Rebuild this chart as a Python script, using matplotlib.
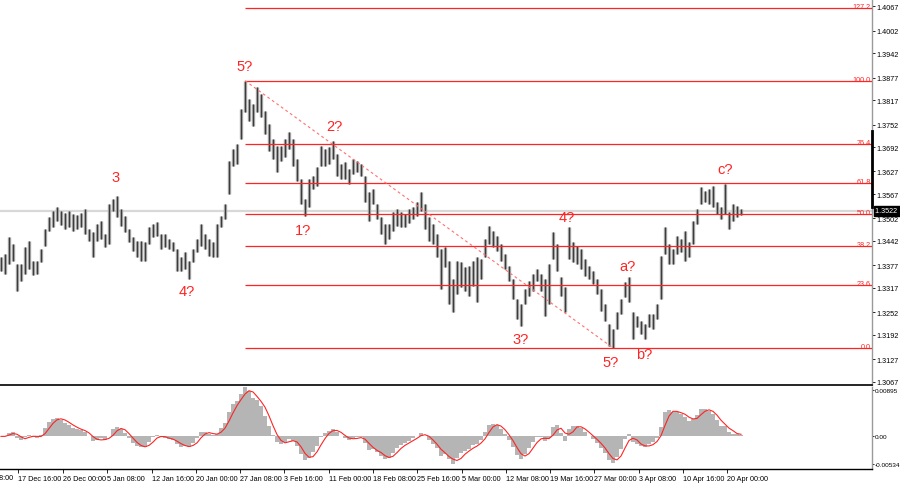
import matplotlib
matplotlib.use("Agg")
import matplotlib.pyplot as plt
import matplotlib.transforms as mtransforms
import numpy as np

# ---- price bars (H/L per bar) ----
highs = [
    1.3399, 1.3407, 1.3453, 1.3434, 1.3381, 1.3381, 1.3426, 1.3442, 1.3389, 1.3389,
    1.3421, 1.3474, 1.3506, 1.3522, 1.3532, 1.3522, 1.3516, 1.3522, 1.3514, 1.3511,
    1.3516, 1.3527, 1.3474, 1.3466, 1.3487, 1.3495, 1.3460, 1.3540, 1.3554, 1.3562,
    1.3527, 1.3508, 1.3474, 1.3453, 1.3442, 1.3442, 1.3439, 1.3479, 1.3487, 1.3492,
    1.3460, 1.3460, 1.3447, 1.3439, 1.3421, 1.3399, 1.3413, 1.3389, 1.3421, 1.3447,
    1.3487, 1.3460, 1.3447, 1.3439, 1.3487, 1.3508, 1.3540, 1.3655, 1.3687, 1.3700,
    1.3794, 1.3869, 1.3820, 1.3807, 1.3852, 1.3833, 1.3788, 1.3754, 1.3714, 1.3695,
    1.3695, 1.3714, 1.3732, 1.3714, 1.3660, 1.3607, 1.3554, 1.3607, 1.3615, 1.3639,
    1.3695, 1.3687, 1.3692, 1.3708, 1.3674, 1.3647, 1.3652, 1.3634, 1.3660, 1.3655,
    1.3647, 1.3615, 1.3572, 1.3580, 1.3540, 1.3506, 1.3487, 1.3487, 1.3519, 1.3527,
    1.3519, 1.3514, 1.3527, 1.3532, 1.3546, 1.3572, 1.3540, 1.3506, 1.3487, 1.3460,
    1.3421, 1.3426, 1.3389, 1.3341, 1.3389, 1.3386, 1.3373, 1.3375, 1.3389, 1.3399,
    1.3394, 1.3447, 1.3482, 1.3468, 1.3455, 1.3434, 1.3407, 1.3375, 1.3341, 1.3287,
    1.3274, 1.3314, 1.3335, 1.3354, 1.3367, 1.3354, 1.3341, 1.3381, 1.3466, 1.3434,
    1.3346, 1.3319, 1.3479, 1.3439, 1.3429, 1.3421, 1.3394, 1.3375, 1.3362, 1.3341,
    1.3314, 1.3274, 1.3221, 1.3207, 1.3253, 1.3287, 1.3333, 1.3346, 1.3253, 1.3242,
    1.3229, 1.3221, 1.3247, 1.3247, 1.3274, 1.3402, 1.3479, 1.3434, 1.3421, 1.3455,
    1.3447, 1.3468, 1.3439, 1.3495, 1.3527, 1.3586, 1.3575, 1.3580, 1.3588, 1.3546,
    1.3532, 1.3594, 1.3519, 1.3540, 1.3535, 1.3527,
]
lows = [
    1.3362, 1.3354, 1.3381, 1.3389, 1.3309, 1.3335, 1.3354, 1.3367, 1.3351, 1.3354,
    1.3386, 1.3429, 1.3468, 1.3479, 1.3495, 1.3484, 1.3474, 1.3479, 1.3468, 1.3474,
    1.3479, 1.3460, 1.3442, 1.3399, 1.3442, 1.3447, 1.3426, 1.3434, 1.3522, 1.3506,
    1.3482, 1.3466, 1.3439, 1.3415, 1.3399, 1.3389, 1.3389, 1.3434, 1.3453, 1.3455,
    1.3421, 1.3426, 1.3421, 1.3415, 1.3362, 1.3362, 1.3367, 1.3341, 1.3386, 1.3413,
    1.3429, 1.3421, 1.3402, 1.3399, 1.3399, 1.3479, 1.3500, 1.3567, 1.3642, 1.3647,
    1.3714, 1.3786, 1.3761, 1.3748, 1.3786, 1.3772, 1.3727, 1.3682, 1.3660, 1.3626,
    1.3655, 1.3666, 1.3687, 1.3642, 1.3602, 1.3540, 1.3508, 1.3532, 1.3580, 1.3588,
    1.3642, 1.3642, 1.3647, 1.3660, 1.3615, 1.3607, 1.3607, 1.3594, 1.3620, 1.3626,
    1.3615, 1.3546, 1.3495, 1.3540, 1.3500, 1.3460, 1.3434, 1.3447, 1.3468, 1.3482,
    1.3479, 1.3479, 1.3490, 1.3500, 1.3508, 1.3522, 1.3474, 1.3442, 1.3434, 1.3399,
    1.3314, 1.3373, 1.3274, 1.3253, 1.3301, 1.3319, 1.3309, 1.3295, 1.3322, 1.3279,
    1.3341, 1.3399, 1.3434, 1.3426, 1.3415, 1.3389, 1.3367, 1.3335, 1.3287, 1.3234,
    1.3215, 1.3274, 1.3295, 1.3309, 1.3335, 1.3309, 1.3242, 1.3274, 1.3394, 1.3362,
    1.3295, 1.3253, 1.3394, 1.3386, 1.3381, 1.3367, 1.3349, 1.3341, 1.3327, 1.3301,
    1.3255, 1.3229, 1.3162, 1.3157, 1.3207, 1.3247, 1.3293, 1.3279, 1.3181, 1.3213,
    1.3194, 1.3181, 1.3213, 1.3207, 1.3234, 1.3287, 1.3407, 1.3381, 1.3381, 1.3407,
    1.3413, 1.3389, 1.3399, 1.3434, 1.3487, 1.3540, 1.3546, 1.3540, 1.3532, 1.3514,
    1.3500, 1.3514, 1.3474, 1.3495, 1.3506, 1.3511,
]
current_price = 1.3522

# ---- axis labels ----
price_ticks = [1.4067, 1.4002, 1.3942, 1.3877, 1.3817, 1.3752, 1.3692, 1.3627, 1.3567,
               1.3502, 1.3442, 1.3377, 1.3317, 1.3252, 1.3192, 1.3127, 1.3067]
date_labels = ["17 Dec 16:00", "26 Dec 00:00", "5 Jan 08:00", "12 Jan 16:00", "20 Jan 00:00",
               "27 Jan 08:00", "3 Feb 16:00", "11 Feb 00:00", "18 Feb 08:00", "25 Feb 16:00",
               "5 Mar 00:00", "12 Mar 08:00", "19 Mar 16:00", "27 Mar 00:00", "3 Apr 08:00",
               "10 Apr 16:00", "20 Apr 00:00"]
date_bars = [4.25, 15.5, 26.5, 37.75, 48.75, 59.75, 70.75, 82.0, 93.0, 104.0,
             115.25, 126.25, 137.25, 148.25, 159.5, 170.5, 181.5]
first_label = "9 Dec 08:00"
first_label_bar = -6.8

# ---- Fibonacci levels ----
fib_levels = [0.0, 23.6, 38.2, 50.0, 61.8, 76.4, 100.0, 127.2]
fib_names = ["0.0", "23.6", "38.2", "50.0", "61.8", "76.4", "100.0", "127.2"]

# ---- wave labels (text, bar, price) ----
wave_text = ["3", "4?", "5?", "1?", "2?", "3?", "4?", "5?", "a?", "b?", "c?"]
wave_bar = [28.75, 46.5, 61.0, 75.5, 83.25, 130.0, 141.5, 152.5, 156.5, 160.75, 181.0]
wave_price = [1.3612, 1.3308, 1.3908, 1.3471, 1.3748, 1.3181, 1.3506, 1.3120, 1.3375, 1.3140, 1.3634]

# ---- indicator labels ----
ind_ticks = [0.00895, 0.0, -0.00534]
ind_names = ["0.00895", "0.00", "-0.00534"]

RED = "#ff2424"
FS = 5.2
FS_IND = 4.6
TFONT = "Liberation Sans"

highs_a = np.array(highs)
lows_a = np.array(lows)
idx = np.arange(len(highs_a))
closes = (highs_a + lows_a) / 2.0


def ema(x, n):
    a = 2.0 / (n + 1)
    out = np.empty_like(x)
    out[0] = x[0]
    for i in range(1, len(x)):
        out[i] = a * x[i] + (1 - a) * out[i - 1]
    return out


macd = ema(closes, 4) - ema(closes, 9)
signal = np.convolve(macd, np.ones(3) / 3.0, mode="full")[: len(macd)]
signal[:2] = macd[:2]

fig = plt.figure(figsize=(9.0, 4.85), dpi=100)
fig.patch.set_facecolor("white")
W, H = 900.0, 485.0
ax = fig.add_axes([0, 1 - 386 / H, 872 / W, 386 / H])
ax2 = fig.add_axes([0, 1 - 470 / H, 872 / W, (470 - 388) / H], sharex=ax)

xlim = (-0.25, 217.75)
ax.set_xlim(*xlim)
ax.set_ylim(1.30582, 1.40865)

# current price line
ax.axhline(current_price, color="#d8d8d8", lw=1.6, zorder=0)

# bars
ax.vlines(idx, lows_a, highs_a, color="#a4a4a4", lw=2.4, zorder=2)
ax.vlines(idx, lows_a, highs_a, color="#3c3c3c", lw=0.8, zorder=3)

# fibonacci
top_i = int(np.argmax(highs_a))
fib_high = highs_a[top_i]
bot_i = top_i + int(np.argmin(lows_a[top_i:]))
fib_low = lows_a[bot_i]
trans_fib = mtransforms.blended_transform_factory(ax.transAxes, ax.transData)
for lv, nm in zip(fib_levels, fib_names):
    price = fib_low + (fib_high - fib_low) * lv / 100.0
    ax.plot([top_i, xlim[1]], [price, price], color=RED, lw=0.9, zorder=4, solid_capstyle="butt")
    ax.annotate(nm, xy=(1.0, price), xycoords=trans_fib, xytext=(-1, -1.5),
                textcoords="offset points", ha="right", va="bottom",
                fontsize=FS, color=RED, family=TFONT)

ax.plot([top_i, bot_i], [fib_high, fib_low], color="#ff7070", lw=0.8,
        linestyle=(0, (2.5, 2.5)), zorder=4)

for t, b, p in zip(wave_text, wave_bar, wave_price):
    ax.text(b, p, t, color=RED, fontsize=10.5, ha="center", va="center",
            family="Liberation Sans", zorder=5)

# price axis
ax.yaxis.tick_right()
ax.set_yticks(price_ticks)
ax.set_yticklabels([f"{v:.4f}" for v in price_ticks])
ax.tick_params(axis="y", direction="out", length=2, width=0.6, pad=1.5,
               labelsize=FS, colors="#000000")
for lab in ax.get_yticklabels():
    lab.set_family(TFONT)
ax.tick_params(axis="x", bottom=False, labelbottom=False)

for s in ["top", "left"]:
    ax.spines[s].set_visible(False)
ax.spines["bottom"].set_color("#000000")
ax.spines["bottom"].set_linewidth(1.2)
ax.spines["right"].set_color("#9a9a9a")
ax.spines["right"].set_linewidth(1.0)

# black stripe on price axis
trans_axis = mtransforms.blended_transform_factory(ax.transAxes, ax.transData)
ax.plot([1.0, 1.0], [1.3532, 1.3735], transform=trans_axis, color="#000000",
        lw=2.0, clip_on=False, zorder=6)

# current price tag
ax.text(1.004, current_price, "1.3522 ", transform=trans_axis, fontsize=FS,
        color="white", va="center", ha="left", family=TFONT,
        bbox=dict(boxstyle="square,pad=0.2", facecolor="black", edgecolor="black"),
        clip_on=False, zorder=7)

# indicator panel
ax2.set_ylim(-0.00629, 0.00952)
ax2.bar(idx, macd, width=1.0, color="#b5b5b5", linewidth=0, zorder=2)
ax2.plot(idx, signal, color=RED, lw=0.8, zorder=3)
ax2.yaxis.tick_right()
ax2.set_yticks(ind_ticks)
ax2.set_yticklabels(ind_names)
ax2.tick_params(axis="y", direction="out", length=1.5, width=0.6, pad=0.8,
                labelsize=FS_IND, colors="#000000")
ax2.set_xticks(date_bars)
ax2.set_xticklabels(date_labels)
ax2.tick_params(axis="x", direction="out", length=3, width=0.6, pad=1.5,
                labelsize=FS, colors="#000000")
for lab in ax2.get_xticklabels():
    lab.set_horizontalalignment("left")
    lab.set_family(TFONT)
for lab in ax2.get_yticklabels():
    lab.set_family(TFONT)
trans_x = mtransforms.blended_transform_factory(ax2.transData, ax2.transAxes)
ax2.text(first_label_bar, -0.06, first_label, transform=trans_x, fontsize=FS,
         ha="left", va="top", family=TFONT, clip_on=False)
for s in ["top", "left"]:
    ax2.spines[s].set_visible(False)
ax2.spines["bottom"].set_color("#000000")
ax2.spines["bottom"].set_linewidth(1.0)
ax2.spines["right"].set_color("#9a9a9a")
ax2.spines["right"].set_linewidth(1.0)

fig.savefig("out.png", dpi=100, facecolor="white")
